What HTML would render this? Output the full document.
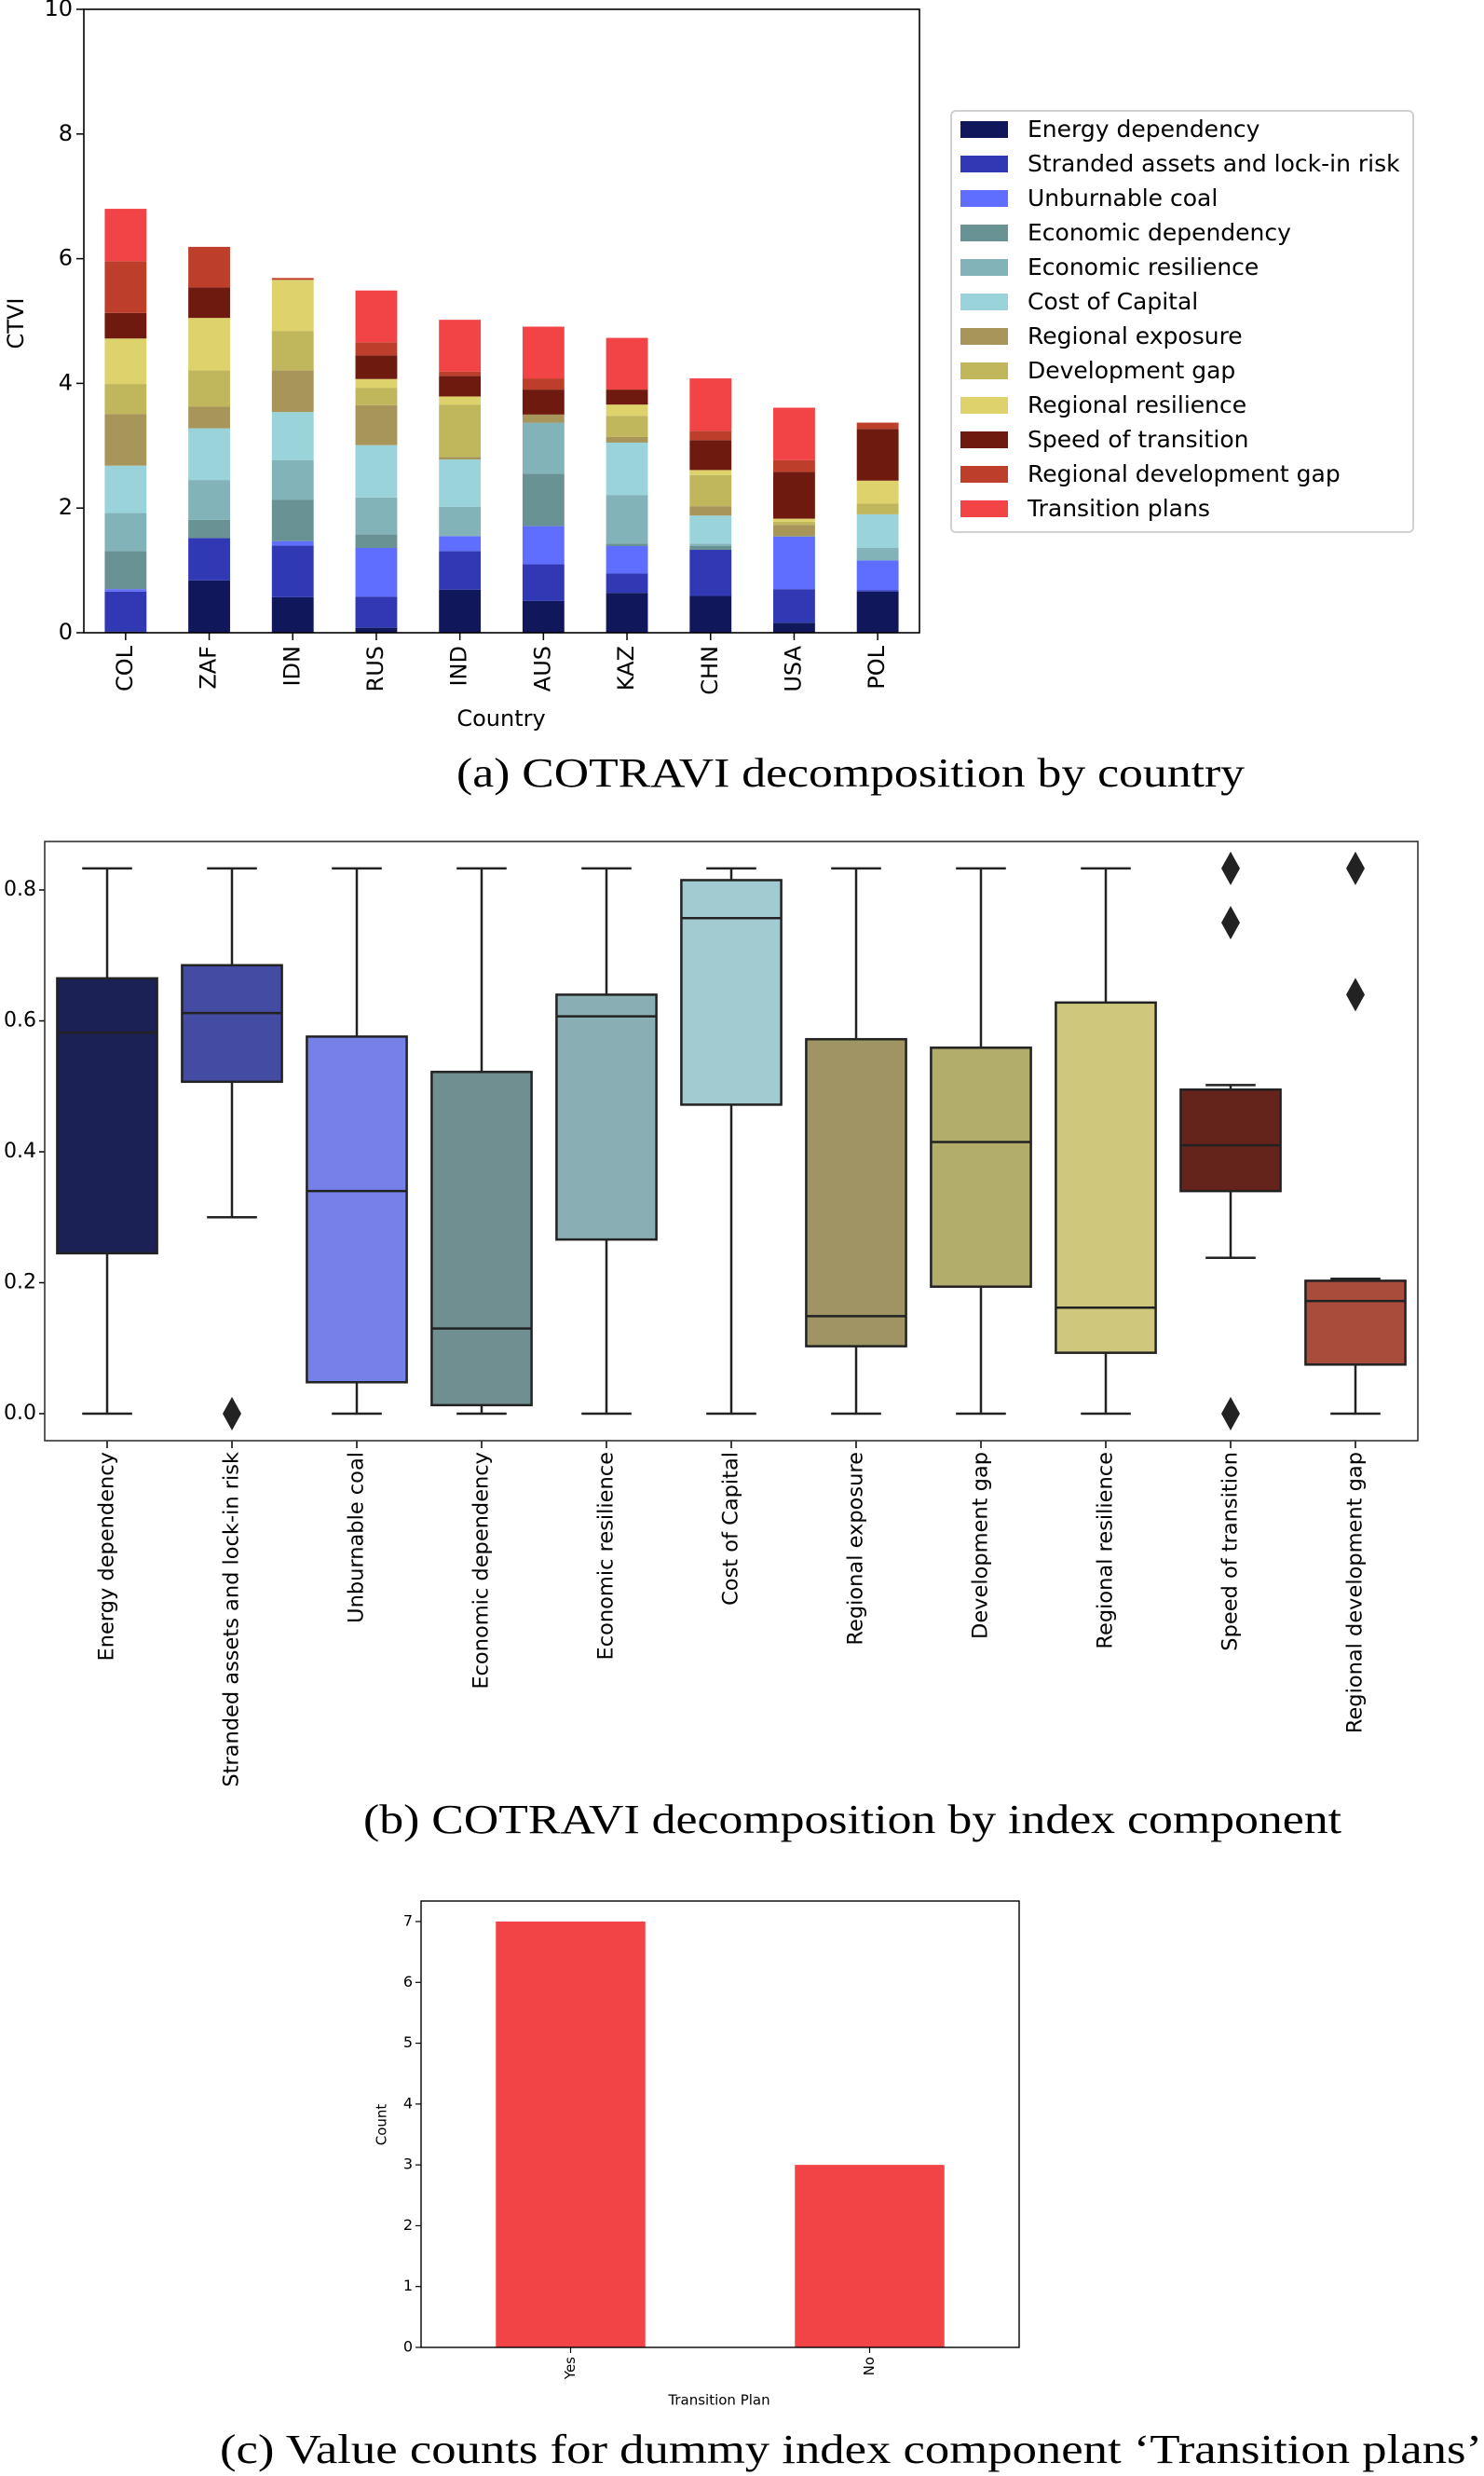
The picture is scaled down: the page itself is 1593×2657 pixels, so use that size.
<!DOCTYPE html>
<html><head><meta charset="utf-8"><style>
html,body{margin:0;padding:0;background:#fff;}
svg{display:block;}
text{font-family:"DejaVu Sans","Liberation Sans",sans-serif;fill:#000;}
.cap{font-family:"Liberation Serif",serif;}
</style></head><body>
<svg id="svg" width="1593" height="2657" viewBox="0 0 1593 2657" xmlns="http://www.w3.org/2000/svg">
<g id="ga"></g>
<g id="gb"></g>
<g id="gc"></g>
<text class="cap" x="490" y="834" font-size="44" textLength="846" lengthAdjust="spacingAndGlyphs" dominant-baseline="middle">(a)  COTRAVI decomposition by country</text>
<text class="cap" x="390" y="1957" font-size="44" textLength="1050" lengthAdjust="spacingAndGlyphs" dominant-baseline="middle">(b)  COTRAVI decomposition by index component</text>
<text class="cap" x="236" y="2633" font-size="44" textLength="1355" lengthAdjust="spacingAndGlyphs" dominant-baseline="middle">(c)  Value counts for dummy index component ‘Transition plans’</text>
</svg>
<script>
const countries = ["COL","ZAF","IDN","RUS","IND","AUS","KAZ","CHN","USA","POL"];
const components = ["Energy dependency","Stranded assets and lock-in risk","Unburnable coal","Economic dependency","Economic resilience","Cost of Capital","Regional exposure","Development gap","Regional resilience","Speed of transition","Regional development gap","Transition plans"];
const energyDep   = [0.02,0.84,0.57,0.08,0.69,0.51,0.64,0.59,0.16,0.66];
const stranded    = [0.64,0.68,0.83,0.50,0.62,0.59,0.31,0.74,0.54,0.02];
const unburnable  = [0.04,0.00,0.07,0.78,0.24,0.61,0.44,0.00,0.84,0.48];
const econDep     = [0.61,0.29,0.66,0.22,0.00,0.84,0.04,0.06,0.01,0.00];
const econRes     = [0.61,0.64,0.64,0.59,0.47,0.82,0.78,0.04,0.00,0.20];
const costCap     = [0.76,0.83,0.77,0.84,0.76,0.00,0.84,0.45,0.00,0.54];
const regExp      = [0.83,0.35,0.67,0.64,0.04,0.13,0.09,0.15,0.18,0.00];
const devGap      = [0.48,0.58,0.63,0.28,0.84,0.00,0.34,0.50,0.05,0.17];
const regRes      = [0.73,0.84,0.82,0.14,0.13,0.00,0.18,0.08,0.05,0.37];
const speed       = [0.41,0.49,0.00,0.38,0.33,0.40,0.24,0.48,0.75,0.83];
const regDevGap   = [0.83,0.65,0.03,0.21,0.07,0.18,0.00,0.15,0.19,0.10];
const transPlans  = [0.84,0.00,0.00,0.83,0.83,0.83,0.83,0.84,0.84,0.00];
const aTicks = [0,2,4,6,8,10];

const boxLabels = components.slice(0,11);
const boxLow    = [0,0.30,0,0,0,0,0,0,0,0.238,0];
const boxQ1     = [0.245,0.507,0.048,0.013,0.266,0.472,0.103,0.194,0.093,0.340,0.075];
const boxMed    = [0.582,0.612,0.340,0.130,0.607,0.757,0.149,0.415,0.162,0.410,0.172];
const boxQ3     = [0.665,0.685,0.576,0.522,0.640,0.815,0.572,0.559,0.628,0.495,0.203];
const boxHigh   = [0.833,0.833,0.833,0.833,0.833,0.833,0.833,0.833,0.833,0.502,0.206];
const boxOutliers = [[],[0],[],[],[],[],[],[],[],[0.833,0.75,0],[0.833,0.64]];
const bTicks = ["0.0","0.2","0.4","0.6","0.8"];

const planCats = ["Yes","No"];
const planCounts = [7,3];
const cTicks = [0,1,2,3,4,5,6,7];

const stackColors = ["#10175a","#3039b3","#5f6efe","#689294","#82b3b9","#9ad3da","#a8955a","#c0b65c","#ddd26b","#6e1a0e","#bd3e2b","#f24446"];
const boxColors = ["#1b2154","#434ba3","#7581e8","#6f8f90","#89afb4","#a1cad1","#a09465","#b3ad6b","#cfc87c","#65241b","#a94c3c"];
const NS="http://www.w3.org/2000/svg";
function mk(parent,tag,attrs,txt){const e=document.createElementNS(NS,tag);for(const k in attrs)e.setAttribute(k,attrs[k]);if(txt!==undefined)e.textContent=txt;parent.appendChild(e);return e;}

// ---------- chart a ----------
(function(){
  const g=document.getElementById('ga');
  const L=90,R=987,T=10,B=679;
  const xs=i=>L+(i+0.5)*(R-L)/countries.length;
  const ys=v=>B-v*(B-T)/10;
  const bw=0.5*(R-L)/countries.length;
  const series=[energyDep,stranded,unburnable,econDep,econRes,costCap,regExp,devGap,regRes,speed,regDevGap,transPlans];
  countries.forEach((c,i)=>{
    let acc=0;
    series.forEach((s,k)=>{
      const v=s[i]; if(v<=0){return;}
      const r=mk(g,'rect',{x:xs(i)-bw/2,y:ys(acc+v),width:bw,height:ys(acc)-ys(acc+v),fill:stackColors[k]});
      
      
      acc+=v;
    });
    const t=mk(g,'line',{x1:xs(i),x2:xs(i),y1:B,y2:B+8,stroke:'#000','stroke-width':1.5});
    
    
    const lb=mk(g,'text',{x:0,y:0,'font-size':24,'text-anchor':'end','dominant-baseline':'middle',transform:`translate(${xs(i)},${B+14}) rotate(-90)`},c);
    
    
  });
  aTicks.forEach(v=>{
    const t=mk(g,'line',{x1:L-8,x2:L,y1:ys(v),y2:ys(v),stroke:'#000','stroke-width':1.5});
    
    
    const lb=mk(g,'text',{x:L-12,y:ys(v),'font-size':24,'text-anchor':'end','dominant-baseline':'middle'},String(v));
    
    
  });
  const fr=mk(g,'rect',{x:L,y:T,width:R-L,height:B-T,fill:'none',stroke:'#000','stroke-width':1.6});
  
  
  const yl=mk(g,'text',{x:0,y:0,'font-size':24,'text-anchor':'middle','dominant-baseline':'middle',transform:'translate(18,347) rotate(-90)'},'CTVI');
  
  
  const xl=mk(g,'text',{x:538,y:772,'font-size':24,'text-anchor':'middle','dominant-baseline':'middle'},'Country');
  
  
  // legend
  const lg=mk(g,'g',{});
  
  
  mk(lg,'rect',{x:1021,y:119,width:496,height:452,rx:5,fill:'#fff',stroke:'#d0d0d0','stroke-width':2});
  components.forEach((n,k)=>{
    const cy=139+k*37;
    const e=mk(lg,'g',{});
    
    
    mk(e,'rect',{x:1031,y:cy-9,width:51,height:18,fill:stackColors[k]});
    mk(e,'text',{x:1103,y:cy+1,'font-size':25,'dominant-baseline':'middle'},n);
  });
})();

// ---------- chart b ----------
(function(){
  const g=document.getElementById('gb');
  const L=48,R=1522,T=903,B=1546;
  const y0=1517, yk=(1517-955)/0.8;
  const ys=v=>y0-v*yk;
  const sp=(R-L)/boxLabels.length;
  const xs=i=>L+(i+0.5)*sp;
  const bw=0.8*sp, cw=0.4*sp;
  boxLabels.forEach((n,i)=>{
    const bx=mk(g,'g',{});
    
    
    const x=xs(i), st={stroke:'#222','stroke-width':2.5};
    mk(bx,'line',Object.assign({x1:x,x2:x,y1:ys(boxLow[i]),y2:ys(boxQ1[i])},st));
    mk(bx,'line',Object.assign({x1:x,x2:x,y1:ys(boxQ3[i]),y2:ys(boxHigh[i])},st));
    mk(bx,'line',Object.assign({x1:x-cw/2,x2:x+cw/2,y1:ys(boxLow[i]),y2:ys(boxLow[i])},st));
    mk(bx,'line',Object.assign({x1:x-cw/2,x2:x+cw/2,y1:ys(boxHigh[i]),y2:ys(boxHigh[i])},st));
    mk(bx,'rect',Object.assign({x:x-bw/2,y:ys(boxQ3[i]),width:bw,height:ys(boxQ1[i])-ys(boxQ3[i]),fill:boxColors[i]},st));
    mk(bx,'line',Object.assign({x1:x-bw/2,x2:x+bw/2,y1:ys(boxMed[i]),y2:ys(boxMed[i])},st));
    boxOutliers[i].forEach(o=>{
      const yy=ys(o);
      const d=mk(bx,'polygon',{points:`${x},${yy-18} ${x+10},${yy} ${x},${yy+18} ${x-10},${yy}`,fill:'#222'});
      
      
    });
    const t=mk(g,'line',{x1:x,x2:x,y1:B,y2:B+8,stroke:'#000','stroke-width':1.5});
    
    
    const lb=mk(g,'text',{x:0,y:0,'font-size':22.5,'text-anchor':'end','dominant-baseline':'middle',transform:`translate(${x},${B+12}) rotate(-90)`},n);
    
    
  });
  bTicks.forEach(s=>{
    const v=parseFloat(s);
    const t=mk(g,'line',{x1:L-6,x2:L,y1:ys(v),y2:ys(v),stroke:'#000','stroke-width':1.5});
    
    
    const lb=mk(g,'text',{x:L-9,y:ys(v),'font-size':22,'text-anchor':'end','dominant-baseline':'middle'},s);
    
    
  });
  const fr=mk(g,'rect',{x:L,y:T,width:R-L,height:B-T,fill:'none',stroke:'#333','stroke-width':1.6});
  
  
})();

// ---------- chart c ----------
(function(){
  const g=document.getElementById('gc');
  const L=452,R=1094,T=2040,B=2519;
  const yk=(2519-2062)/7;
  const ys=v=>B-v*yk;
  const sp=(R-L)/planCats.length;
  const xs=i=>L+(i+0.5)*sp;
  const bw=0.5*sp;
  planCats.forEach((c,i)=>{
    const r=mk(g,'rect',{x:xs(i)-bw/2,y:ys(planCounts[i]),width:bw,height:B-ys(planCounts[i]),fill:'#f24446'});
    
    
    const t=mk(g,'line',{x1:xs(i),x2:xs(i),y1:B,y2:B+6,stroke:'#000','stroke-width':1.2});
    
    
    const lb=mk(g,'text',{x:0,y:0,'font-size':15,'text-anchor':'end','dominant-baseline':'middle',transform:`translate(${xs(i)},${B+10}) rotate(-90)`},c);
    
    
  });
  cTicks.forEach(v=>{
    const t=mk(g,'line',{x1:L-6,x2:L,y1:ys(v),y2:ys(v),stroke:'#000','stroke-width':1.2});
    
    
    const lb=mk(g,'text',{x:L-9,y:ys(v),'font-size':16,'text-anchor':'end','dominant-baseline':'middle'},String(v));
    
    
  });
  const fr=mk(g,'rect',{x:L,y:T,width:R-L,height:B-T,fill:'none',stroke:'#000','stroke-width':1.4});
  
  
  const yl=mk(g,'text',{x:0,y:0,'font-size':15,'text-anchor':'middle','dominant-baseline':'middle',transform:'translate(410,2280) rotate(-90)'},'Count');
  
  
  const xl=mk(g,'text',{x:772,y:2576,'font-size':15,'text-anchor':'middle','dominant-baseline':'middle'},'Transition Plan');
  
  
})();
</script>
</body></html>
